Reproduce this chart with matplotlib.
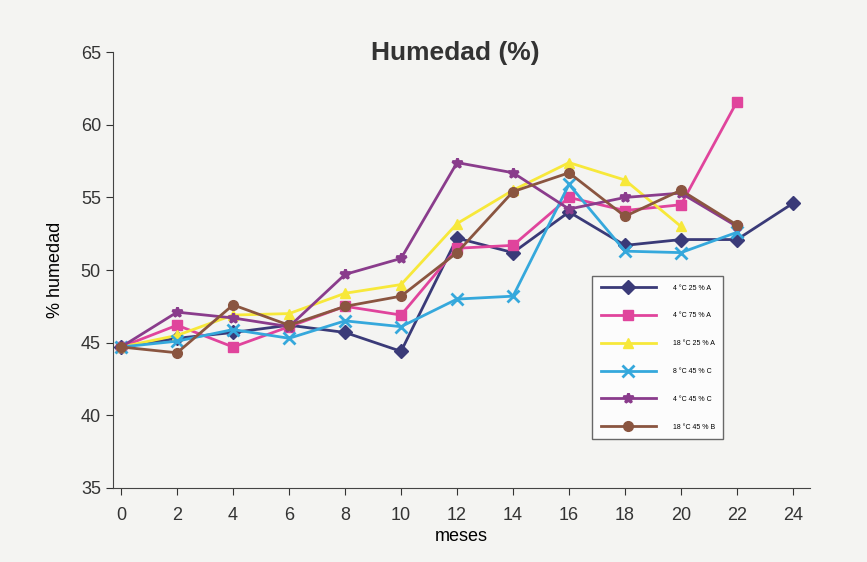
from matplotlib import pyplot as plt
import numpy as np

plt.rcParams['font.family'] = ['Liberation Sans', 'DejaVu Sans']

meses = [0, 2, 4, 6, 8, 10, 12, 14, 16, 18, 20, 22, 24]

# valores (% humedad)
serie1 = [44.7, 45.3, 45.7, 46.2, 45.7, 44.4, 52.2, 51.2, 54.0, 51.7, 52.1, 52.1, 54.6]
serie2 = [44.7, 46.2, 44.7, 46.1, 47.5, 46.9, 51.5, 51.7, 55.0, 54.1, 54.5, 61.6]
serie3 = [44.7, 45.5, 46.9, 47.0, 48.4, 49.0, 53.2, 55.5, 57.4, 56.2, 53.0]
serie4 = [44.7, 45.1, 45.9, 45.3, 46.5, 46.1, 48.0, 48.2, 55.9, 51.3, 51.2, 52.6]
serie5 = [44.7, 47.1, 46.7, 46.1, 49.7, 50.8, 57.4, 56.7, 54.2, 55.0, 55.3, 53.0]
serie6 = [44.7, 44.3, 47.6, 46.2, 47.5, 48.2, 51.2, 55.4, 56.7, 53.7, 55.5, 53.1]

etiquetas = ["4 °C 25 % A", "4 °C 75 % A", "18 °C 25 % A",
             "8 °C 45 % C", "4 °C 45 % C", "18 °C 45 % B"]

series = [serie1, serie2, serie3, serie4, serie5, serie6]
colores = ["#3a3a78", "#e0449c", "#f7e83a", "#35a8dc", "#8a3c8c", "#8a5540"]
marcadores = ["D", "s", "^", "x", "*", "o"]

fig = plt.figure(figsize=(8.67, 5.62), dpi=100)
fig.patch.set_facecolor("#f4f4f2")
ax = fig.add_axes([0.130, 0.132, 0.804, 0.775])
ax.set_facecolor("#f4f4f2")

for s, c, m, lab in zip(series, colores, marcadores, etiquetas):
    ms = 7 if m != "x" else 8
    ax.plot(meses[:len(s)], s, color=c, marker=m, markersize=ms, linewidth=2,
            markeredgewidth=2 if m in ("x", "*") else 1, label=lab)

ax.set_xlim(-0.3, 24.6)
ax.set_ylim(35, 65)
ax.set_xticks(meses)
ax.set_yticks(np.arange(35, 66, 5))
ax.tick_params(labelsize=13, direction="out", length=5, colors="#333333")
ax.tick_params(axis="x", pad=9)
for sp in ["top", "right"]:
    ax.spines[sp].set_visible(False)
for sp in ["left", "bottom"]:
    ax.spines[sp].set_color("#444444")

ax.set_xlabel("meses", fontsize=13, labelpad=3)
ax.set_ylabel("% humedad", fontsize=13, labelpad=12)
fig.text(0.525, 0.905, "Humedad (%)", fontsize=19, fontweight="bold",
         ha="center", va="center", color="#333333")

leg = ax.legend(loc="lower left", bbox_to_anchor=(0.688, 0.112), fontsize=5,
                frameon=True, fancybox=False, edgecolor="#444444",
                handlelength=8, labelspacing=3.0, borderpad=1.2,
                handletextpad=2.4, borderaxespad=0)
leg.get_frame().set_facecolor("white")

fig.savefig("out.png", dpi=100, facecolor=fig.get_facecolor())
